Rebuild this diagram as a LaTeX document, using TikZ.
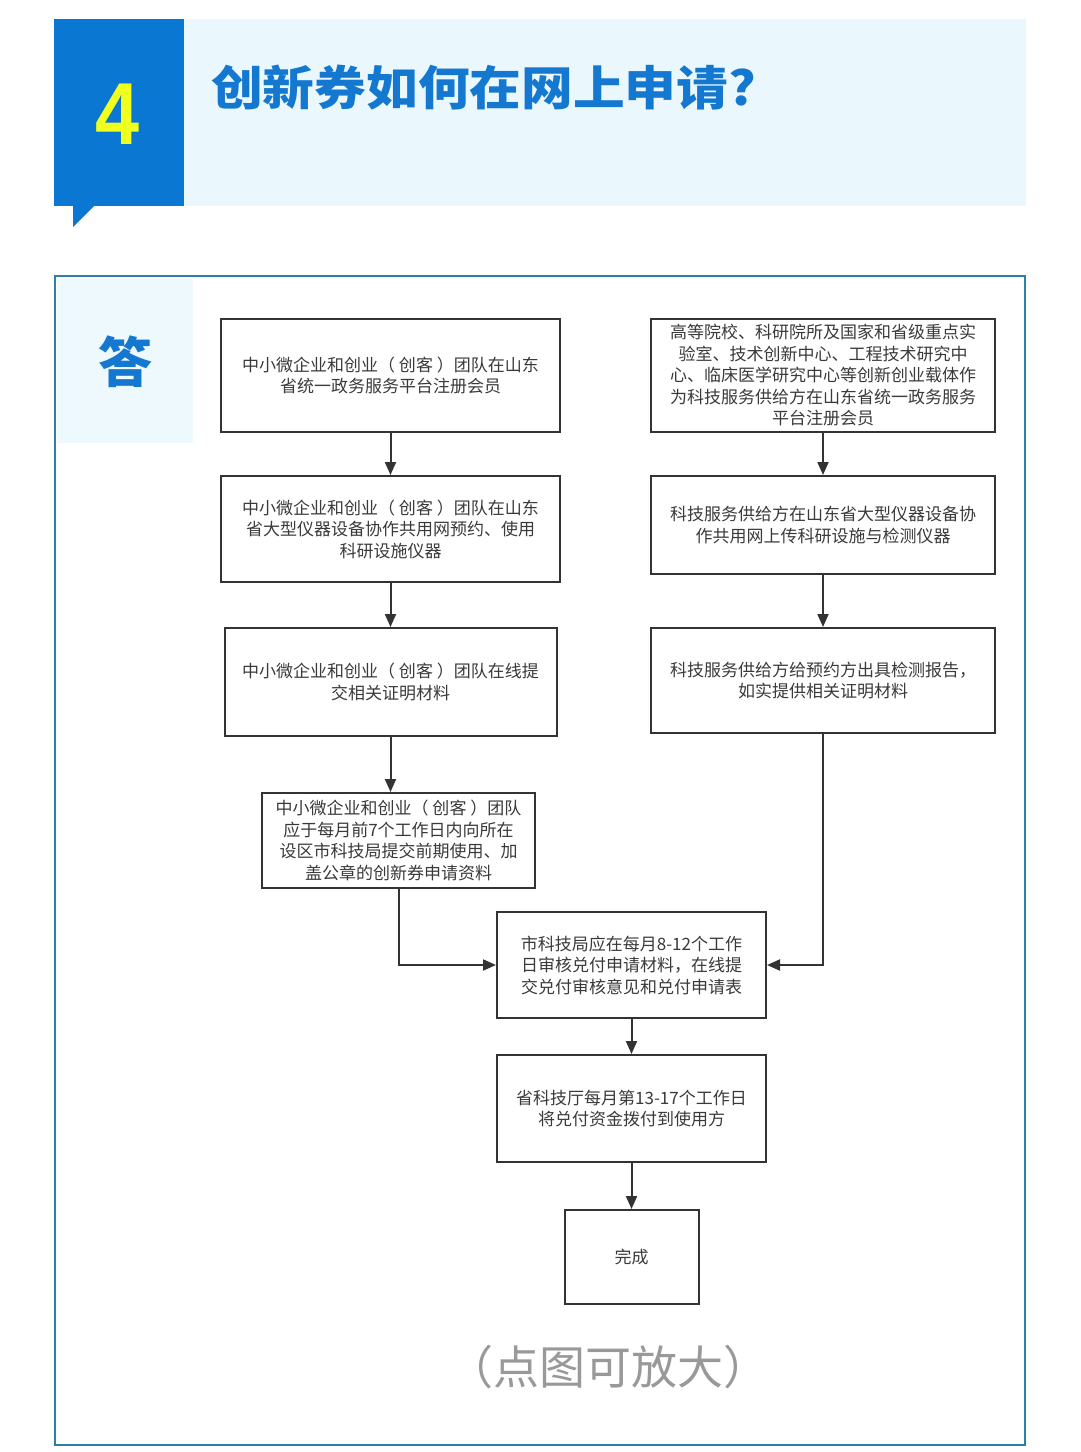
\documentclass[tikz,border=0pt]{standalone}
\usepackage{fontspec}
\setmainfont{Noto Sans CJK SC}
\newfontfamily\numfont{Liberation Sans}
\usetikzlibrary{arrows.meta}
\definecolor{hdrbg}{HTML}{EAF8FD}
\definecolor{hblue}{HTML}{0A78D2}
\definecolor{titleblue}{HTML}{1478D0}
\definecolor{numyellow}{HTML}{F0FF1E}
\definecolor{aborder}{HTML}{2C80AA}
\definecolor{abg}{HTML}{EEF9FE}
\definecolor{boxline}{HTML}{333333}
\definecolor{boxtext}{HTML}{3A3A3A}
\definecolor{capgray}{HTML}{999999}
\begin{document}
\begin{tikzpicture}[x=1pt,y=-1pt,
  flowbox/.style={draw=boxline, line width=2pt, align=center, inner sep=0pt,
    text=boxtext, font=\fontsize{17}{21.5}\selectfont},
  arr/.style={draw=boxline, line width=2pt, -{Triangle[length=13pt,width=11pt]}}]
\useasboundingbox (0,0) rectangle (1080,1452);
\fill[white] (0,0) rectangle (1080,1452);
% header
\fill[hdrbg] (54,19) rectangle (1026,206);
\fill[hblue] (54,19) rectangle (184,206);
\fill[hblue] (73,205) -- (95,205) -- (73,227) -- cycle;
\node[text=numyellow, font=\numfont\bfseries\fontsize{88}{88}\selectfont, inner sep=0pt, xscale=0.9, transform shape] (num) at (118,114) {4};
\node[anchor=west, text=titleblue, font=\bfseries\fontsize{47}{47}\selectfont, inner sep=0pt, xscale=1.1, transform shape] (title) at (211,88) {创新券如何在网上申请?};
% answer frame
\fill[abg] (57,279) rectangle (193,443);
\draw[aborder, line width=2pt] (55,276) rectangle (1025,1445);
\node[text=titleblue, font=\bfseries\fontsize{54}{54}\selectfont, inner sep=0pt] (da) at (125,362) {答};
% left column
\node[flowbox, minimum width=339pt, minimum height=113pt] (b1) at (390.5,375.5)
  {中小微企业和创业（ 创客 ）团队在山东\\省统一政务服务平台注册会员};
\node[flowbox, minimum width=339pt, minimum height=106pt] (b2) at (390.5,529)
  {中小微企业和创业（ 创客 ）团队在山东\\省大型仪器设备协作共用网预约、使用\\科研设施仪器};
\node[flowbox, minimum width=332pt, minimum height=108pt] (b3) at (390.5,682)
  {中小微企业和创业（ 创客 ）团队在线提\\交相关证明材料};
\node[flowbox, minimum width=273pt, minimum height=95pt] (b4) at (398.5,840.5)
  {中小微企业和创业（ 创客 ）团队\\应于每月前7个工作日内向所在\\设区市科技局提交前期使用、加\\盖公章的创新券申请资料};
% right column
\node[flowbox, minimum width=344pt, minimum height=113pt] (r1) at (823,375.5)
  {高等院校、科研院所及国家和省级重点实\\验室、技术创新中心、工程技术研究中\\心、临床医学研究中心等创新创业载体作\\为科技服务供给方在山东省统一政务服务\\平台注册会员};
\node[flowbox, minimum width=344pt, minimum height=98pt] (r2) at (823,525)
  {科技服务供给方在山东省大型仪器设备协\\作共用网上传科研设施与检测仪器};
\node[flowbox, minimum width=344pt, minimum height=105pt] (r3) at (823,680.5)
  {科技服务供给方给预约方出具检测报告，\\如实提供相关证明材料};
% middle column
\node[flowbox, minimum width=269pt, minimum height=106pt] (m1) at (631.5,965)
  {市科技局应在每月8-12个工作\\日审核兑付申请材料，在线提\\交兑付审核意见和兑付申请表};
\node[flowbox, minimum width=269pt, minimum height=107pt] (m2) at (631.5,1108.5)
  {省科技厅每月第13-17个工作日\\将兑付资金拨付到使用方};
\node[flowbox, minimum width=134pt, minimum height=94pt] (m3) at (631.5,1257)
  {完成};
% connectors
\draw[arr] (b1) -- (b2);
\draw[arr] (b2) -- (b3);
\draw[arr] (b3.south) -- (b3.south |- b4.north);
\draw[arr] (b4.south) |- (m1.west);
\draw[arr] (r1) -- (r2);
\draw[arr] (r2) -- (r3);
\draw[arr] (r3.south) |- (m1.east);
\draw[arr] (m1) -- (m2);
\draw[arr] (m2) -- (m3);
% caption
\node[text=capgray, font=\fontsize{46}{46}\selectfont, inner sep=0pt] (cap) at (608,1367) {（点图可放大）};
\end{tikzpicture}
\end{document}
